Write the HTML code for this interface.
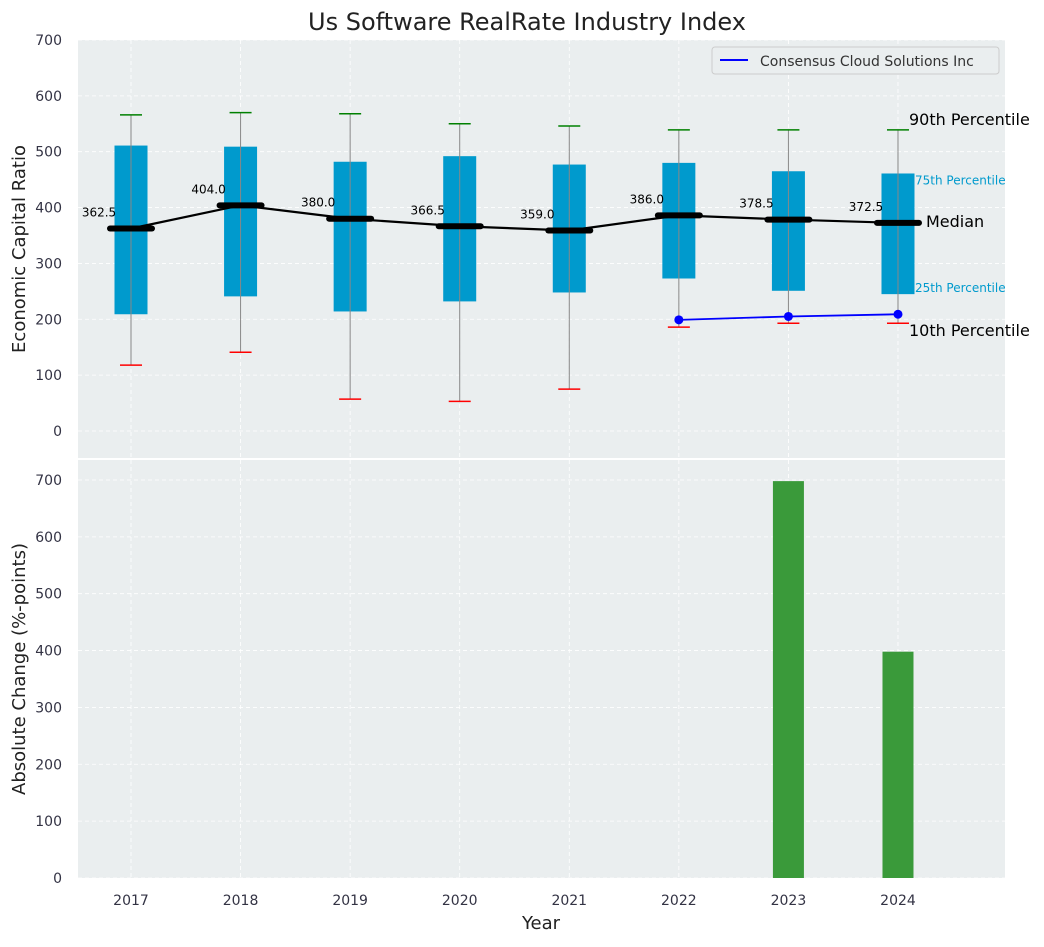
<!DOCTYPE html>
<html><head><meta charset="utf-8"><style>
body{margin:0;background:#fff;font-family:"Liberation Sans","DejaVu Sans",sans-serif;}
svg text{font-family:"DejaVu Sans","Liberation Sans",sans-serif;}
</style></head><body>
<svg id="chart" width="1044" height="942" xmlns="http://www.w3.org/2000/svg">
<rect x="0" y="0" width="1044" height="942" fill="#fff"/>
<text x="527" y="30" font-size="24" text-anchor="middle" fill="#222">Us Software RealRate Industry Index</text>
<rect x="78" y="40" width="927" height="418" fill="#eaeeef"/>
<rect x="78" y="460" width="927" height="418" fill="#eaeeef"/>
<g id="grid"></g><g id="marks"></g><g id="axes"></g>
<text transform="translate(25,249) rotate(-90)" font-size="18" text-anchor="middle" fill="#222">Economic Capital Ratio</text>
<text transform="translate(25,669) rotate(-90)" font-size="18" text-anchor="middle" fill="#222">Absolute Change (%-points)</text>
<text x="541" y="929" font-size="18" text-anchor="middle" fill="#222">Year</text>
<g>
<rect x="712" y="47" width="287" height="27" fill="#eaeeef" stroke="#ccc" rx="3"/>
<line x1="720" y1="60" x2="748" y2="60" stroke="#0000ff" stroke-width="2"/>
<text x="760" y="66" font-size="14" fill="#333">Consensus Cloud Solutions Inc</text>
</g>
</svg>
<script>
const years=[2017,2018,2019,2020,2021,2022,2023,2024];
const q1=[209,241,214,232,248,273,251,245];
const q3=[511,509,482,492,477,480,465,461];
const p10=[118,141,57,53,75,186,193,193];
const p90=[566,570,568,550,546,539,539,539];
const medians=[362.5,404.0,380.0,366.5,359.0,386.0,378.5,372.5];
const companyYears=[2022,2023,2024];
const companyVals=[199,205,209];
const changeYears=[2023,2024];
const changeVals=[698,398];
const topTicks=[0,100,200,300,400,500,600,700];
const botTicks=[0,100,200,300,400,500,600,700];

const NS="http://www.w3.org/2000/svg";
const x=v=>131+(v-2017)*109.57;
const yT=v=>431-v*0.5586;
const yB=v=>878-v*0.5686;
function mk(parent,tag,attrs,txt){const e=document.createElementNS(NS,tag);for(const k in attrs)e.setAttribute(k,attrs[k]);if(txt!==undefined)e.textContent=txt;document.getElementById(parent).appendChild(e);return e;}
topTicks.forEach(t=>{
 const l=mk('grid','line',{x1:78,x2:1005,y1:yT(t),y2:yT(t),stroke:'#fff','stroke-dasharray':'4,3','stroke-width':0.8});
 
 
 const tx=mk('axes','text',{x:62,y:yT(t)+5,'font-size':14,'text-anchor':'end',fill:'#334'},t);
 
 
});
botTicks.forEach(t=>{
 const l=mk('grid','line',{x1:78,x2:1005,y1:yB(t),y2:yB(t),stroke:'#fff','stroke-dasharray':'4,3','stroke-width':0.8});
 
 
 const tx=mk('axes','text',{x:62,y:yB(t)+5,'font-size':14,'text-anchor':'end',fill:'#334'},t);
 
 
});
years.forEach(yr=>{
 [[40,458],[460,878]].forEach(r=>{
  const l=mk('grid','line',{x1:x(yr),x2:x(yr),y1:r[0],y2:r[1],stroke:'#fff','stroke-dasharray':'4,3','stroke-width':0.8});
  
  
 });
 const tx=mk('axes','text',{x:x(yr),y:905,'font-size':14,'text-anchor':'middle',fill:'#334'},yr);
 
 
});
mk('grid','line',{x1:78,x2:1005,y1:459,y2:459,stroke:'#fff','stroke-width':2});
years.forEach((yr,i)=>{
 const cx=x(yr);
 const b=mk('marks','rect',{x:cx-16.5,y:yT(q3[i]),width:33,height:yT(q1[i])-yT(q3[i]),fill:'#009acd'});
 
 
 const w=mk('marks','line',{x1:cx,x2:cx,y1:yT(p10[i]),y2:yT(p90[i]),stroke:'#888','stroke-width':1});
 
 
 const c1=mk('marks','line',{x1:cx-11,x2:cx+11,y1:yT(p90[i]),y2:yT(p90[i]),stroke:'green','stroke-width':1.5});
 
 
 const c2=mk('marks','line',{x1:cx-11,x2:cx+11,y1:yT(p10[i]),y2:yT(p10[i]),stroke:'red','stroke-width':1.5});
 
 
});
const mp=mk('marks','polyline',{points:years.map((yr,i)=>x(yr)+','+yT(medians[i])).join(' '),fill:'none',stroke:'#000','stroke-width':2.2});


years.forEach((yr,i)=>{
 const m=mk('marks','line',{x1:x(yr)-21,x2:x(yr)+21,y1:yT(medians[i]),y2:yT(medians[i]),stroke:'#000','stroke-width':6,'stroke-linecap':'round'});
 
 
 const t=mk('marks','text',{x:x(yr)-32,y:yT(medians[i])-12,'font-size':12,'text-anchor':'middle',fill:'#000'},medians[i].toFixed(1));
 
 
});
const cl=mk('marks','polyline',{points:companyYears.map((yr,i)=>x(yr)+','+yT(companyVals[i])).join(' '),fill:'none',stroke:'#0000ff','stroke-width':1.8});


companyYears.forEach((yr,i)=>{
 const p=mk('marks','circle',{cx:x(yr),cy:yT(companyVals[i]),r:4.5,fill:'#0000ff'});
 
 
});
changeYears.forEach((yr,i)=>{
 const b=mk('marks','rect',{x:x(yr)-15.5,y:yB(changeVals[i]),width:31,height:yB(0)-yB(changeVals[i]),fill:'#3a9a3a'});
 
 
});
const last=years.length-1, lx=x(years[last]);
const ann=[['90th Percentile',p90[last],lx+11,16,'#000',10],['75th Percentile',q3[last],lx+17,12,'#009acd',-6],['Median',medians[last],lx+28,16,'#000',1],['25th Percentile',q1[last],lx+17,12,'#009acd',7],['10th Percentile',p10[last],lx+11,16,'#000',-8]];
ann.forEach(a=>{
 const t=mk('marks','text',{x:a[2],y:yT(a[1])-a[5]+5,'font-size':a[3],fill:a[4]},a[0]);
 
 
});
</script>
</body></html>
